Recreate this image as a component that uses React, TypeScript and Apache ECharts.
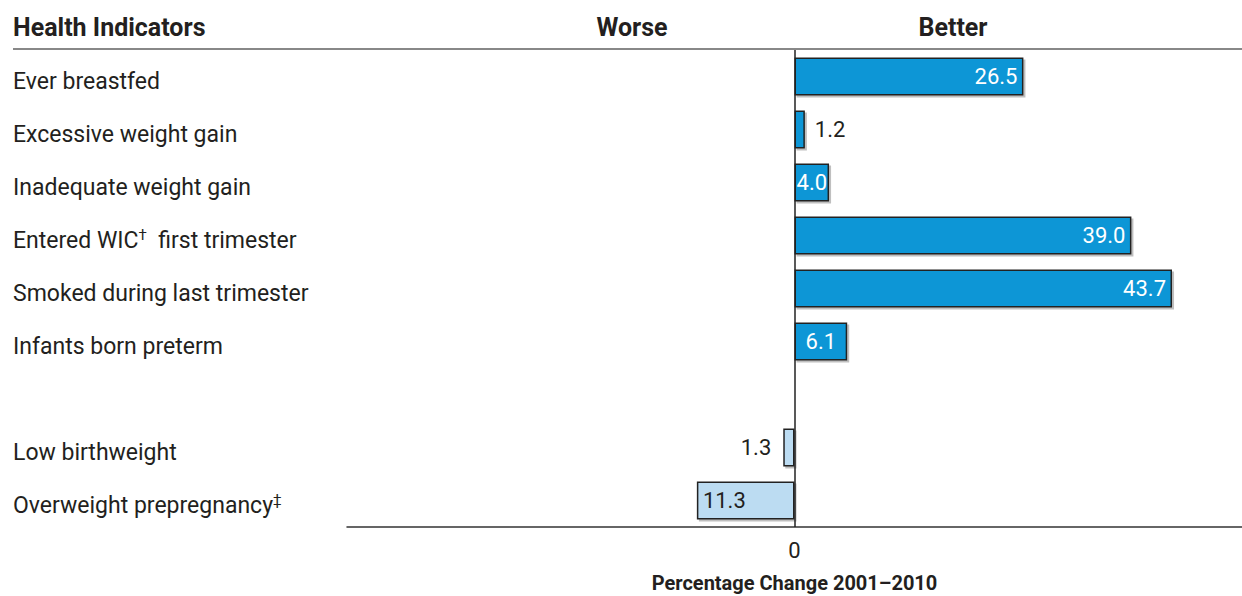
import React, { useEffect, useRef } from "react";
import * as echarts from "echarts";

const categories = [
  "Ever breastfed",
  "Excessive weight gain",
  "Inadequate weight gain",
  "Entered WIC{sup|†}  first trimester",
  "Smoked during last trimester",
  "Infants born preterm",
  "",
  "Low birthweight",
  "Overweight prepregnancy{sup|‡}",
];
const values: (number | null)[] = [26.5, 1.2, 4.0, 39.0, 43.7, 6.1, null, -1.3, -11.3];
const labelPositions = ["insideRight", "right", "inside", "insideRight", "insideRight", "inside", "inside", "left", "insideLeft"];
const headerTitle = "Health Indicators";
const worseText = "Worse";
const betterText = "Better";
const xAxisTitle = "Percentage Change 2001–2010";
const xTickValues = [0];

const FONT = "Roboto, 'Liberation Sans', sans-serif";
const TEXT = "#231f20";
const POS = "#0a96d6";
const NEG = "#bcdcf2";

export default function App() {
  const ref = useRef<HTMLDivElement>(null);
  useEffect(() => {
    document.body.style.margin = "0";
    if (!ref.current) return;
    const chart = echarts.init(ref.current, undefined, { renderer: "svg" });
    const data = values.map((v, i) => {
      if (v === null) return { value: null };
      const pos = labelPositions[i];
      const inside = pos.startsWith("inside");
      const dark = !inside || v < 0;
      return {
        value: v,
        itemStyle: { color: v >= 0 ? POS : NEG },
        label: {
          show: true,
          position: pos,
          distance: pos === "right" ? 10 : pos === "left" ? 12 : 6,
          color: dark ? TEXT : "#ffffff",
          formatter: Math.abs(v).toFixed(1),
        },
      };
    });
    chart.setOption({
      animation: false,
      textStyle: { fontFamily: FONT },
      grid: { left: 347, right: 0, top: 50, bottom: 69, containLabel: false, outerBoundsMode: "none" },
      xAxis: {
        type: "value",
        min: -51.8,
        max: 51.8,
        axisLine: { show: true, onZero: false, lineStyle: { color: "#333", width: 1.5 } },
        axisTick: { show: false },
        splitLine: { show: false },
        axisLabel: {
          customValues: xTickValues,
          color: TEXT,
          fontSize: 22,
          margin: 12,
          fontFamily: FONT,
        },
        name: xAxisTitle,
        nameLocation: "middle",
        nameGap: 46,
        nameTextStyle: { fontSize: 20, fontWeight: "bold", color: TEXT, fontFamily: FONT },
      },
      yAxis: {
        type: "category",
        inverse: true,
        data: categories,
        axisLine: { show: false },
        axisTick: { show: false },
        axisLabel: {
          align: "left",
          margin: 334,
          color: TEXT,
          fontSize: 23,
          fontFamily: FONT,
          padding: [9, 0, 0, 0],
          rich: {
            sup: { fontSize: 15, color: TEXT, fontFamily: FONT, padding: [0, 0, 10, 0] },
          },
        },
      },
      series: [
        {
          type: "bar",
          data,
          barWidth: 38,
          itemStyle: {
            borderColor: "#222",
            borderWidth: 1.5,
            shadowColor: "rgba(0,0,0,0.25)",
            shadowOffsetX: 2,
            shadowOffsetY: 2,
            shadowBlur: 1,
          },
          label: { fontSize: 22, fontFamily: FONT },
          markLine: {
            silent: true,
            symbol: "none",
            label: { show: false },
            lineStyle: { color: "#222", width: 1.5, type: "solid" },
            data: [{ xAxis: 0 }],
          },
        },
      ],
      graphic: [
        {
          type: "line",
          shape: { x1: 13, y1: 49, x2: 1242, y2: 49 },
          style: { stroke: "#888", lineWidth: 2 },
        },
        {
          type: "text",
          x: 13,
          y: 27,
          style: { text: headerTitle, fontSize: 25, fontWeight: "bold", fill: TEXT, fontFamily: FONT, verticalAlign: "middle" },
        },
        {
          type: "text",
          x: 632,
          y: 27,
          style: { text: worseText, fontSize: 25, fontWeight: "bold", fill: TEXT, fontFamily: FONT, align: "center", verticalAlign: "middle" },
        },
        {
          type: "text",
          x: 953,
          y: 27,
          style: { text: betterText, fontSize: 25, fontWeight: "bold", fill: TEXT, fontFamily: FONT, align: "center", verticalAlign: "middle" },
        },
      ],
    });
    return () => chart.dispose();
  }, []);
  return <div ref={ref} style={{ width: 1242, height: 596 }} />;
}
